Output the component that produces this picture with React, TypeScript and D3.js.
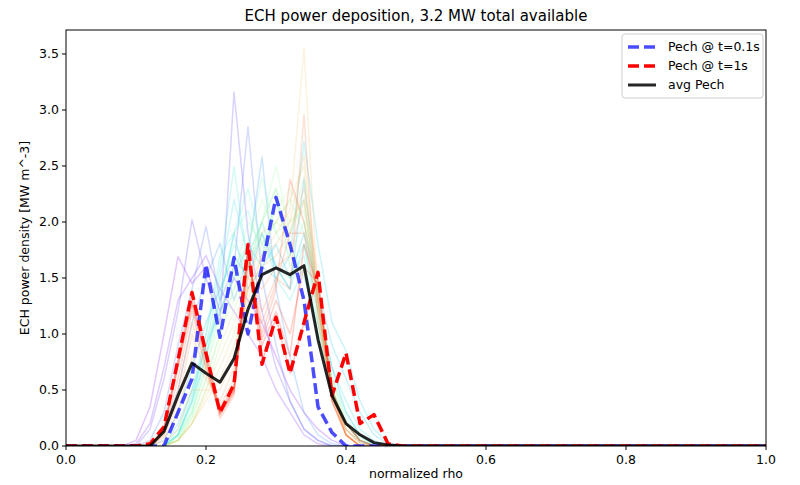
import * as d3 from 'd3';

// rho grid used by every profile
const RHO = d3.range(0, 51).map((i) => i / 50);
// profiles below are given from rho = 0.08 (index 4) up to 0.48; zero elsewhere
const WINDOW_START = 4;

// faint profiles, one per time slice, early (purple) -> late (red)
const TRACE_CMAP = [
  0.0, 0.03, 0.06, 0.12, 0.18, 0.24, 0.27, 0.3, 0.33, 0.36, 0.39, 0.42, 0.45, 0.48, 0.51,
  0.54, 0.57, 0.6, 0.63, 0.66, 0.69, 0.72, 0.75, 0.78, 0.81, 0.84, 0.87, 0.9, 0.93, 0.96, 1.0,
];
const TRACES: number[][] = [
  [0, 0.05, 0.35, 1.0, 1.69, 1.45, 1.6, 1.2, 1.5, 1.3, 1.1, 0.8, 0.5, 0.3, 0.15, 0.05, 0, 0, 0, 0, 0],
  [0, 0.02, 0.2, 0.7, 1.3, 1.5, 1.7, 1.4, 1.2, 1.0, 0.8, 0.5, 0.3, 0.1, 0.02, 0, 0, 0, 0, 0, 0],
  [0, 0, 0.15, 0.6, 1.2, 2.02, 1.5, 1.1, 3.16, 1.9, 1.2, 0.7, 0.4, 0.15, 0.05, 0, 0, 0, 0, 0, 0],
  [0, 0, 0.05, 0.3, 0.9, 1.4, 1.96, 1.3, 1.6, 2.85, 1.5, 0.9, 0.4, 0.15, 0.05, 0, 0, 0, 0, 0, 0],
  [0, 0, 0, 0.15, 0.5, 1.1, 1.5, 1.81, 1.3, 1.7, 2.58, 1.4, 0.8, 0.3, 0.1, 0.02, 0, 0, 0, 0, 0],
  [0, 0, 0, 0.05, 0.3, 0.7, 1.1, 1.4, 1.7, 1.5, 1.9, 1.6, 1.4, 2.38, 1.3, 0.7, 0.3, 0.1, 0.02, 0, 0],
  [0, 0, 0, 0, 0.1, 0.4, 0.8, 1.3, 1.9, 1.4, 1.6, 1.8, 1.5, 1.9, 1.4, 0.9, 0.6, 0.3, 0.1, 0.02, 0],
  [0, 0, 0, 0, 0.2, 0.5, 0.9, 1.2, 1.5, 1.8, 1.6, 1.5, 1.7, 2.72, 1.8, 1.1, 0.85, 0.4, 0.15, 0.03, 0],
  [0, 0, 0, 0, 0.1, 0.45, 0.9, 1.5, 2.2, 1.7, 2.0, 1.6, 1.4, 1.8, 1.2, 0.7, 0.4, 0.15, 0.05, 0, 0],
  [0, 0, 0, 0, 0.15, 0.5, 1.0, 1.6, 2.49, 1.6, 1.9, 1.5, 1.3, 1.6, 1.0, 0.5, 0.2, 0.05, 0, 0, 0],
  [0, 0, 0, 0, 0.1, 0.4, 1.0, 1.7, 1.9, 2.3, 1.8, 1.6, 1.5, 1.7, 1.0, 0.5, 0.2, 0.05, 0, 0, 0],
  [0, 0, 0, 0, 0.1, 0.4, 0.9, 1.3, 1.9, 2.1, 1.7, 2.2, 1.8, 1.5, 1.1, 0.6, 0.3, 0.1, 0, 0, 0],
  [0, 0, 0, 0, 0.1, 0.3, 0.8, 1.4, 1.8, 1.6, 2.0, 2.3, 1.6, 1.8, 1.1, 0.5, 0.2, 0.05, 0, 0, 0],
  [0, 0, 0, 0, 0.1, 0.35, 0.8, 1.2, 1.6, 1.8, 2.4, 1.9, 1.7, 2.0, 1.3, 0.6, 0.25, 0.08, 0, 0, 0],
  [0, 0, 0, 0, 0.05, 0.3, 0.7, 1.2, 1.5, 2.0, 1.8, 2.0, 2.2, 1.9, 1.2, 0.5, 0.2, 0.05, 0, 0, 0],
  [0, 0, 0, 0, 0.08, 0.3, 0.7, 1.1, 1.4, 1.7, 2.0, 2.5, 1.9, 2.2, 1.2, 0.5, 0.2, 0.05, 0, 0, 0],
  [0, 0, 0, 0, 0.05, 0.25, 0.6, 1.0, 1.4, 1.8, 2.2, 1.9, 2.0, 2.1, 1.3, 0.5, 0.15, 0.03, 0, 0, 0],
  [0, 0, 0, 0, 0.05, 0.25, 0.6, 1.0, 1.3, 1.6, 1.9, 2.1, 2.3, 2.0, 1.4, 0.6, 0.2, 0.05, 0, 0, 0],
  [0, 0, 0, 0, 0.05, 0.2, 0.5, 0.9, 1.2, 1.6, 2.0, 2.3, 2.0, 2.2, 1.3, 0.5, 0.15, 0, 0, 0, 0],
  [0, 0, 0, 0, 0.05, 0.2, 0.5, 0.8, 1.1, 1.5, 1.8, 2.0, 1.9, 2.4, 1.2, 0.5, 0.15, 0.03, 0, 0, 0],
  [0, 0, 0, 0, 0.05, 0.2, 0.45, 0.7, 1.0, 1.4, 1.9, 2.0, 2.2, 2.5, 1.3, 0.45, 0.1, 0, 0, 0, 0],
  [0, 0, 0, 0, 0.05, 0.2, 0.4, 0.6, 0.9, 1.3, 1.7, 1.9, 2.1, 3.55, 1.3, 0.4, 0.1, 0, 0, 0, 0],
  [0, 0, 0, 0.03, 0.15, 0.5, 0.5, 0.5, 0.8, 1.4, 1.7, 1.8, 2.0, 2.6, 1.4, 0.5, 0.1, 0, 0, 0, 0],
  [0, 0, 0, 0.05, 0.3, 0.8, 0.6, 0.4, 0.7, 1.4, 1.6, 1.7, 1.9, 2.3, 1.5, 0.5, 0.1, 0, 0, 0, 0],
  [0, 0, 0, 0.08, 0.4, 1.0, 0.65, 0.35, 0.6, 1.5, 1.4, 1.6, 1.7, 2.2, 1.3, 0.45, 0.1, 0, 0, 0, 0],
  [0, 0, 0, 0.1, 0.5, 1.1, 0.7, 0.3, 0.5, 1.6, 1.2, 1.5, 1.4, 2.96, 1.1, 0.4, 0.1, 0, 0, 0, 0],
  [0, 0, 0, 0.12, 0.6, 1.2, 0.7, 0.28, 0.48, 1.65, 1.1, 1.45, 1.9, 1.9, 1.2, 0.4, 0.1, 0, 0, 0, 0],
  [0, 0, 0, 0.15, 0.7, 1.25, 0.75, 0.25, 0.45, 1.7, 1.0, 1.4, 2.38, 2.0, 1.3, 0.4, 0.1, 0, 0, 0, 0],
  [0, 0, 0, 0.15, 0.72, 1.28, 0.78, 0.28, 0.48, 1.72, 0.95, 1.3, 1.0, 1.6, 1.45, 0.45, 0.15, 0.03, 0, 0, 0],
  [0, 0, 0, 0.15, 0.75, 1.3, 0.8, 0.3, 0.5, 1.75, 0.9, 1.2, 0.8, 1.8, 1.4, 0.5, 0.2, 0.05, 0, 0, 0],
  [0, 0, 0, 0.17, 0.77, 1.37, 0.85, 0.3, 0.55, 1.8, 0.75, 1.15, 0.65, 1.1, 1.5, 0.45, 0.2, 0.05, 0, 0, 0],
];

const PECH_T01 = [0, 0, 0, 0, 0.3, 0.6, 1.62, 0.97, 1.68, 1.0, 1.6, 2.22, 1.8, 1.3, 0.35, 0.12, 0, 0, 0, 0, 0];
const PECH_T1 = [0, 0, 0.02, 0.17, 0.77, 1.37, 0.83, 0.3, 0.55, 1.8, 0.73, 1.15, 0.65, 1.1, 1.55, 0.45, 0.83, 0.2, 0.28, 0.02, 0];
const PECH_AVG = [0, 0, 0, 0.13, 0.45, 0.74, 0.65, 0.57, 0.78, 1.22, 1.53, 1.59, 1.53, 1.61, 0.95, 0.45, 0.2, 0.1, 0.03, 0.01, 0];

const X_TICKS = [0, 0.2, 0.4, 0.6, 0.8, 1.0];
const Y_TICKS = [0, 0.5, 1.0, 1.5, 2.0, 2.5, 3.0, 3.5];

const LEGEND = [
  { label: 'Pech @ t=0.1s', color: 'rgba(0,0,255,0.7)', dash: '11,5' },
  { label: 'Pech @ t=1s', color: 'rgba(255,0,0,1)', dash: '11,5' },
  { label: 'avg Pech', color: 'rgba(0,0,0,0.85)', dash: null },
];

// matplotlib "rainbow" colormap
function rainbow(t: number) {
  const r = Math.min(1, Math.abs(2 * t - 0.5));
  const g = Math.sin(Math.PI * t);
  const b = Math.cos((Math.PI / 2) * t);
  return d3.rgb(r * 255, g * 255, b * 255).formatRgb();
}

function fullProfile(vals: number[]) {
  return RHO.map((_, i) => {
    const j = i - WINDOW_START;
    return j >= 0 && j < vals.length ? vals[j] : 0;
  });
}

const W = 800;
const H = 485;
const margin = { top: 30, right: 34, bottom: 39, left: 66 };
const FONT = 'DejaVu Sans, sans-serif';

export default function App() {
  const x = d3.scaleLinear().domain([0, 1]).range([margin.left, W - margin.right]);
  const y = d3.scaleLinear().domain([0, 3.714]).range([H - margin.bottom, margin.top]);

  const line = d3
    .line<number>()
    .x((_, i) => x(RHO[i]))
    .y((d) => y(d));

  const fmt = d3.format('.1f');
  const x0 = margin.left;
  const x1 = W - margin.right;
  const y0 = H - margin.bottom;
  const y1 = margin.top;

  return (
    <svg
      width={W}
      height={H}
      style={{ position: 'absolute', left: 0, top: 0, background: '#fff' }}
      fontFamily={FONT}
    >
      <defs>
        <clipPath id="plot">
          <rect x={x0} y={y1} width={x1 - x0} height={y0 - y1} />
        </clipPath>
      </defs>

      <g clipPath="url(#plot)" fill="none" strokeLinejoin="round">
        {TRACES.map((t, i) => (
          <path
            key={i}
            d={line(fullProfile(t)) ?? ''}
            stroke={rainbow(TRACE_CMAP[i])}
            strokeOpacity={0.22}
            strokeWidth={1.5}
          />
        ))}
        <path d={line(fullProfile(PECH_T01)) ?? ''} stroke="rgba(0,0,255,0.7)" strokeWidth={3.5} strokeDasharray="11,5" />
        <path d={line(fullProfile(PECH_T1)) ?? ''} stroke="rgb(255,0,0)" strokeWidth={3.5} strokeDasharray="11,5" />
        <path d={line(fullProfile(PECH_AVG)) ?? ''} stroke="rgba(0,0,0,0.85)" strokeWidth={3} />
      </g>

      {/* axes frame */}
      <rect x={x0} y={y1} width={x1 - x0} height={y0 - y1} fill="none" stroke="#000" strokeWidth={1} />

      {X_TICKS.map((t) => (
        <g key={`x${t}`} transform={`translate(${x(t)},${y0})`}>
          <line y2={4} stroke="#000" />
          <text y={18} textAnchor="middle" fontSize={12.5}>
            {fmt(t)}
          </text>
        </g>
      ))}
      {Y_TICKS.map((t) => (
        <g key={`y${t}`} transform={`translate(${x0},${y(t)})`}>
          <line x2={-4} stroke="#000" />
          <text x={-7} dy="0.35em" textAnchor="end" fontSize={12.5}>
            {fmt(t)}
          </text>
        </g>
      ))}

      <text x={(x0 + x1) / 2} y={21} textAnchor="middle" fontSize={15}>
        ECH power deposition, 3.2 MW total available
      </text>
      <text x={(x0 + x1) / 2} y={478} textAnchor="middle" fontSize={12.5}>
        normalized rho
      </text>
      <text
        transform={`translate(29,${(y0 + y1) / 2}) rotate(-90)`}
        textAnchor="middle"
        fontSize={12.5}
      >
        ECH power density [MW m^-3]
      </text>

      {/* legend */}
      <g transform="translate(622,34)">
        <rect width={141} height={64} rx={3} fill="#fff" fillOpacity={0.8} stroke="#ccc" />
        {LEGEND.map((d, i) => (
          <g key={d.label} transform={`translate(6,${13 + i * 19})`}>
            <line
              x1={0}
              x2={28}
              stroke={d.color}
              strokeWidth={d.dash ? 3.5 : 3}
              strokeDasharray={d.dash ?? undefined}
            />
            <text x={40} dy="0.35em" fontSize={12.5}>
              {d.label}
            </text>
          </g>
        ))}
      </g>
    </svg>
  );
}
